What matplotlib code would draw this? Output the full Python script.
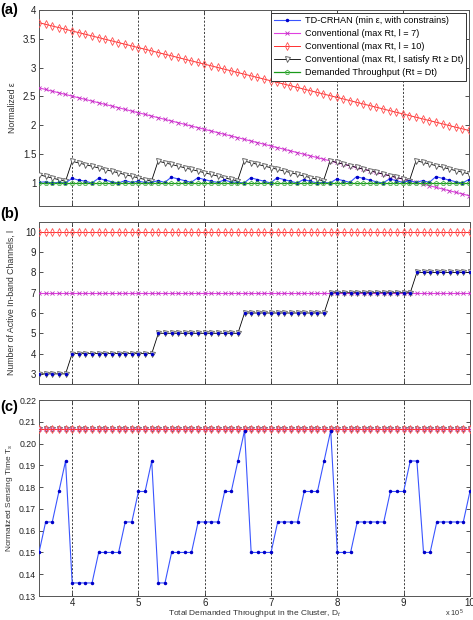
import numpy as np
import matplotlib.pyplot as plt

plt.rcParams['font.family'] = ['Liberation Sans', 'DejaVu Sans']
plt.rcParams['mathtext.fontset'] = 'custom'
plt.rcParams['mathtext.rm'] = 'Liberation Sans'
plt.rcParams['mathtext.it'] = 'Liberation Sans:italic'

#--------- data ---------
# demanded throughput (x 10^5), 3.5 ... 10.0 in steps of 0.1
dt = np.round(np.arange(35, 101) / 10.0, 1)

# (a) normalized epsilon
eps_td = [1.01, 1.02, 1.00, 1.01, 1.00,
          1.08, 1.05, 1.03, 1.00, 1.08, 1.05, 1.02, 1.00, 1.04, 1.01, 1.03, 1.01, 1.01,
          1.04, 1.01, 1.10, 1.07, 1.04, 1.01, 1.09, 1.06, 1.03, 1.01, 1.05, 1.02, 1.01,
          1.00, 1.09, 1.06, 1.03, 1.00, 1.09, 1.06, 1.03, 1.00, 1.06, 1.03, 1.00, 1.01,
          1.00, 1.07, 1.04, 1.01, 1.11, 1.08, 1.05, 1.02, 1.00, 1.07, 1.04, 1.01, 1.04,
          1.01, 1.04, 1.01, 1.11, 1.08, 1.05, 1.02, 1.00, 1.06]
eps_l7 = [2.650, 2.621, 2.592, 2.564, 2.535, 2.506, 2.477, 2.449, 2.420, 2.391,
          2.362, 2.334, 2.305, 2.276, 2.247, 2.218, 2.190, 2.161, 2.132, 2.103,
          2.075, 2.046, 2.017, 1.988, 1.960, 1.931, 1.902, 1.873, 1.844, 1.816,
          1.787, 1.758, 1.729, 1.701, 1.672, 1.643, 1.614, 1.586, 1.557, 1.528,
          1.499, 1.470, 1.442, 1.413, 1.384, 1.355, 1.327, 1.298, 1.269, 1.240,
          1.212, 1.183, 1.154, 1.125, 1.096, 1.068, 1.039, 1.010, 0.981, 0.953,
          0.924, 0.895, 0.866, 0.837, 0.809, 0.780]
eps_l10 = [3.780, 3.751, 3.722, 3.694, 3.665, 3.636, 3.607, 3.579, 3.550, 3.521,
           3.492, 3.464, 3.435, 3.406, 3.377, 3.348, 3.320, 3.291, 3.262, 3.233,
           3.205, 3.176, 3.147, 3.118, 3.090, 3.061, 3.032, 3.003, 2.974, 2.946,
           2.917, 2.888, 2.859, 2.831, 2.802, 2.773, 2.744, 2.716, 2.687, 2.658,
           2.629, 2.600, 2.572, 2.543, 2.514, 2.485, 2.457, 2.428, 2.399, 2.370,
           2.342, 2.313, 2.284, 2.255, 2.226, 2.198, 2.169, 2.140, 2.111, 2.083,
           2.054, 2.025, 1.996, 1.967, 1.939, 1.910]
eps_lsat = [1.143, 1.114, 1.085, 1.057, 1.028,
            1.376, 1.347, 1.319, 1.290, 1.261, 1.232, 1.204, 1.175, 1.146, 1.117, 1.088, 1.060, 1.031,
            1.379, 1.350, 1.322, 1.293, 1.264, 1.235, 1.207, 1.178, 1.149, 1.120, 1.091, 1.063, 1.034,
            1.381, 1.352, 1.324, 1.295, 1.266, 1.237, 1.209, 1.180, 1.151, 1.122, 1.093, 1.065, 1.036,
            1.384, 1.355, 1.327, 1.298, 1.269, 1.240, 1.212, 1.183, 1.154, 1.125, 1.096, 1.068, 1.039,
            1.387, 1.358, 1.330, 1.301, 1.272, 1.243, 1.214, 1.186, 1.157]
eps_demand = [1.0] * 66

# (b) number of active in-band channels
l_td = [3] * 5 + [4] * 13 + [5] * 13 + [6] * 13 + [7] * 13 + [8] * 9
l_l7 = [7] * 66
l_l10 = [10] * 66

# (c) normalized sensing time
ts_td = [0.150, 0.164, 0.164, 0.178, 0.192,
         0.136, 0.136, 0.136, 0.136, 0.150, 0.150, 0.150, 0.150, 0.164, 0.164, 0.178, 0.178, 0.192,
         0.136, 0.136, 0.150, 0.150, 0.150, 0.150, 0.164, 0.164, 0.164, 0.164, 0.178, 0.178, 0.192,
         0.206, 0.150, 0.150, 0.150, 0.150, 0.164, 0.164, 0.164, 0.164, 0.178, 0.178, 0.178, 0.192,
         0.206, 0.150, 0.150, 0.150, 0.164, 0.164, 0.164, 0.164, 0.164, 0.178, 0.178, 0.178, 0.192,
         0.192, 0.150, 0.150, 0.164, 0.164, 0.164, 0.164, 0.164, 0.178]
ts_conv = [0.2065] * 66

labels = ['TD-CRHAN (min ε, with constrains)',
          'Conventional (max Rt, l = 7)',
          'Conventional (max Rt, l = 10)',
          'Conventional (max Rt, l satisfy Rt ≥ Dt)',
          'Demanded Throughput (Rt = Dt)']

#--------- styles ---------
S_TD = dict(color='#3a55ff', lw=0.8, marker='.', ms=3, mfc='#0000c8', mec='#0000c8')
S_L7 = dict(color='#e040e0', lw=0.8, marker='x', ms=2.3, mew=0.6, mec='#c030c0')
S_L10 = dict(color='#ff3030', lw=0.7, marker='d', ms=3.6, mfc='none', mec='#ff5050', mew=0.6)
S_SAT = dict(color='k', lw=0.6, marker='v', ms=3.6, mfc='white', mec='#555555', mew=0.6)
S_DEM = dict(color='#1a9a1a', lw=0.9, marker='p', ms=3.3, mfc='none', mec='#40b040', mew=0.6)

TICK_FS = 7
LAB_FS = 6.3


def style_axes(ax_):
    ax_.set_xlim(3.5, 10)
    ax_.set_xticks(range(4, 11))
    ax_.tick_params(direction='in', length=3, width=0.6, labelsize=TICK_FS, pad=2,
                    top=True, right=True, colors='#333333', labelcolor='#222222')
    ax_.grid(axis='x', color='#222222', linestyle=(0, (2.5, 2)), linewidth=0.6)
    for s in ax_.spines.values():
        s.set_color('#555555')
        s.set_linewidth(0.7)


fig = plt.figure(figsize=(4.73, 6.20), dpi=100)

#--------- (a) ---------
ax1 = fig.add_axes([0.0825, 0.6677, 0.909, 0.3162])
ax1.plot(dt, eps_td, label=labels[0], zorder=4, **S_TD)
ax1.plot(dt, eps_l7, label=labels[1], zorder=3, **S_L7)
ax1.plot(dt, eps_l10, label=labels[2], zorder=3, **S_L10)
ax1.plot(dt, eps_lsat, label=labels[3], zorder=3, **S_SAT)
ax1.plot(dt, eps_demand, label=labels[4], zorder=5, **S_DEM)
style_axes(ax1)
ax1.set_ylim(0.6, 4)
ax1.set_yticks([1, 1.5, 2, 2.5, 3, 3.5, 4])
ax1.set_yticklabels(['1', '1.5', '2', '2.5', '3', '3.5', '4'])
ax1.set_xticklabels([])
ax1.set_ylabel('Normalized ε', fontsize=LAB_FS, color='#333333', labelpad=4)
leg = ax1.legend(loc='upper right', fontsize=6.6, labelspacing=0.45, handlelength=2.8,
                 borderaxespad=0.3, borderpad=0.35, handletextpad=0.5, fancybox=False,
                 framealpha=1, edgecolor='#333333')
leg.get_frame().set_linewidth(0.7)

#--------- (b) ---------
ax2 = fig.add_axes([0.0825, 0.3806, 0.911, 0.2618])
ax2.plot(dt, l_l10, zorder=3, **S_L10)
ax2.plot(dt, l_l7, zorder=3, **S_L7)
ax2.plot(dt, l_td, zorder=3, **S_SAT)
ax2.plot(dt, l_td, zorder=4, **dict(S_TD, lw=0))
style_axes(ax2)
ax2.set_ylim(2.5, 10.5)
ax2.set_yticks(range(3, 11))
ax2.set_xticklabels([])
ax2.set_ylabel('Number of Active In-band Channels, l', fontsize=LAB_FS, color='#333333', labelpad=7)

#--------- (c) ---------
ax3 = fig.add_axes([0.0825, 0.0387, 0.911, 0.3161])
ax3.plot(dt, ts_td, zorder=4, **S_TD)
ax3.plot(dt, ts_conv, zorder=3, **S_SAT)
ax3.plot(dt, ts_conv, zorder=3, **S_L7)
ax3.plot(dt, ts_conv, zorder=3, **S_L10)
style_axes(ax3)
ax3.set_ylim(0.13, 0.22)
ax3.set_yticks(np.round(np.arange(0.13, 0.2201, 0.01), 2))
ax3.tick_params(axis='y', labelsize=6.3)
ax3.tick_params(axis='x', pad=1.5)
ax3.set_xlabel('Total Demanded Throughput in the Cluster, D$_t$', fontsize=LAB_FS - 0.3,
               color='#333333', labelpad=0)
ax3.set_ylabel('Normalized Sensing Time T$_s$', fontsize=LAB_FS - 0.3, color='#333333', labelpad=3)
fig.text(0.94, 0.006, r'x 10$^5$', fontsize=5.3, color='#333333')

# panel letters
fig.text(0.0, 0.977, '(a)', fontsize=10.5, fontweight='bold')
fig.text(0.0, 0.648, '(b)', fontsize=10.5, fontweight='bold')
fig.text(0.0, 0.337, '(c)', fontsize=10.5, fontweight='bold')

fig.savefig('out.png', dpi=100)
